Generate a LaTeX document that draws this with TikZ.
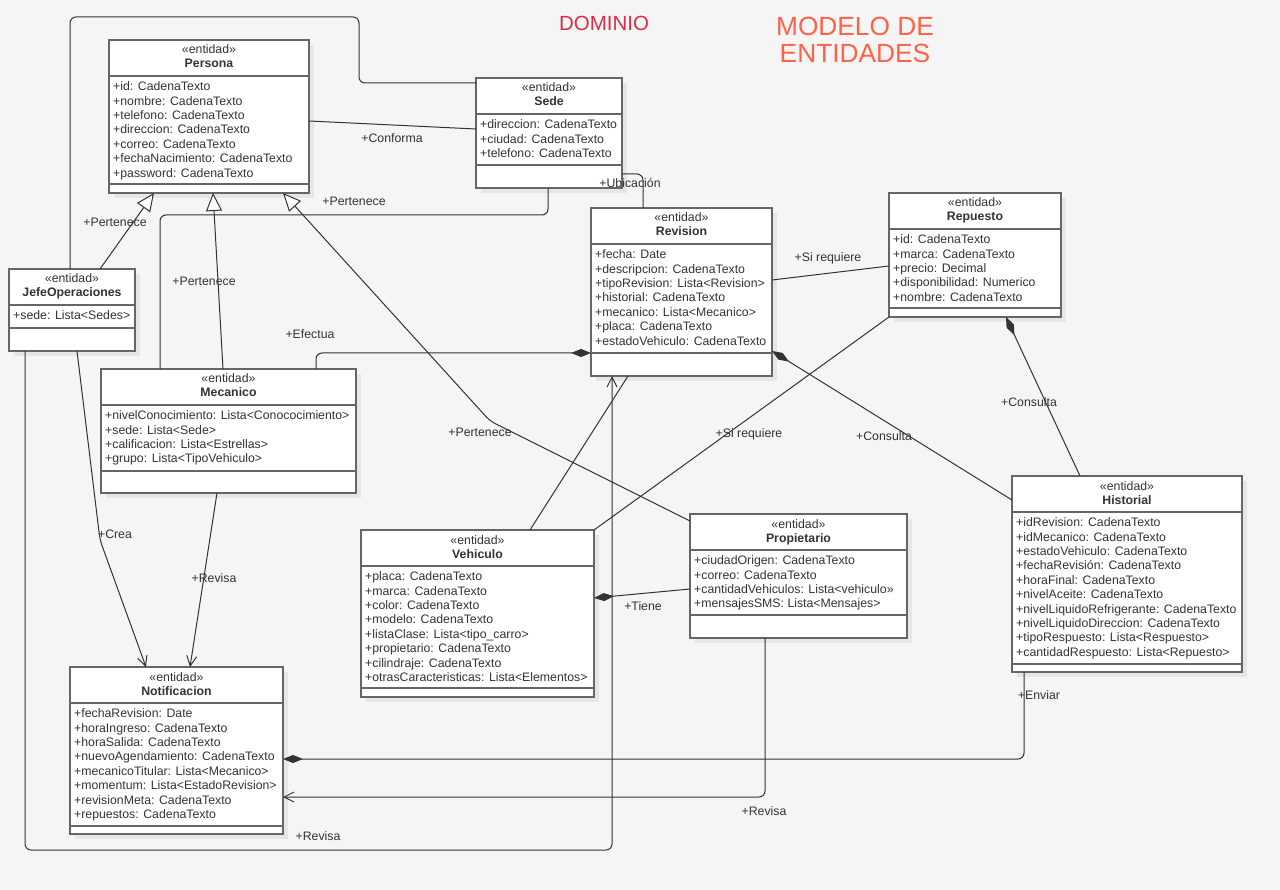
\documentclass[tikz,border=0pt]{standalone}
\usepackage{fontspec}
\setmainfont{Liberation Sans}
\usepackage{xcolor}
\usetikzlibrary{arrows.meta,calc}

\definecolor{fondo}{RGB}{245,245,245}
\definecolor{linea}{RGB}{51,51,51}
\definecolor{bordecaja}{RGB}{102,102,102}
\definecolor{sombragris}{RGB}{230,230,230}
\definecolor{rojodominio}{RGB}{220,44,72}
\definecolor{naranjamodelo}{RGB}{255,99,71}

\tikzset{
  caja/.style={draw=bordecaja, fill=white, line width=1.2pt, inner sep=0pt, outer sep=0pt},
  borde/.style={draw=bordecaja, line width=1.2pt},
  sombra/.style={fill=sombragris},
  estereotipo/.style={anchor=base, inner sep=0pt, font=\fontsize{12.3}{14.4}\selectfont, text=black!80},
  titulo/.style={anchor=base, inner sep=0pt, font=\fontsize{12.3}{14.4}\selectfont\bfseries, text=black!80},
  atributo/.style={anchor=base west, inner sep=0pt, font=\fontsize{12.3}{14.4}\selectfont, text=black!80},
  etiqueta/.style={inner sep=0pt, font=\fontsize{12.3}{14.4}\selectfont, text=black!80},
  enlace/.style={draw=linea, line width=1pt, rounded corners=6pt},
  herencia/.style={enlace, -{Triangle[length=18pt, width=16pt, fill=white]}},
  composicion/.style={enlace, -{Diamond[length=20pt, width=8pt]}},
  dirigida/.style={enlace, -{Straight Barb[length=10pt, width=10pt]}},
}

% nombre, izq, arriba, der, abajo, linea de metodos, titulo, atributos
\newcommand{\claseuml}[8]{%
  \fill[sombra] ({#2+5},{#3+5}) rectangle ({#4+5},{#5+5});
  \node[caja, minimum width={(#4-#2)*1pt}, minimum height={(#5-#3)*1pt}] (#1) at ({(#2+#4)/2},{(#3+#5)/2}) {};
  \draw[borde] (#2,{#3+36}) -- (#4,{#3+36}) (#2,#6) -- (#4,#6);
  \node[estereotipo] at ({(#2+#4)/2},{#3+14}) {«entidad»};
  \node[titulo] at ({(#2+#4)/2},{#3+28}) {#7};
  \foreach \a [count=\i] in {#8}
    \node[atributo] at ({#2+4},{#3+50.7+14.4*(\i-1)}) {\a};
}

\begin{document}
\begin{tikzpicture}[x=1pt, y=-1pt]
        \useasboundingbox (0,0) rectangle (1280,890);
        \fill[fondo] (0,0) rectangle (1280,890);

        \node[text=rojodominio, font=\fontsize{20.5}{24}\selectfont] (dominio) at (604,23) {DOMINIO};
        \node[text=naranjamodelo, align=center, font=\fontsize{26.3}{27}\selectfont] (modelo) at (855,40) {MODELO DE\\ENTIDADES};

        % clases
        \claseuml{persona}{109}{40}{309}{193}{184}{Persona}{+id: CadenaTexto, +nombre: CadenaTexto, +telefono: CadenaTexto, +direccion: CadenaTexto, +correo: CadenaTexto, +fechaNacimiento: CadenaTexto, +password: CadenaTexto}
        \claseuml{sede}{476}{78}{622}{188}{165}{Sede}{+direccion: CadenaTexto, +ciudad: CadenaTexto, +telefono: CadenaTexto}
        \claseuml{revision}{591}{208}{772}{376}{353}{Revision}{+fecha: Date, +descripcion: CadenaTexto, +tipoRevision: Lista<Revision>, +historial: CadenaTexto, +mecanico: Lista<Mecanico>, +placa: CadenaTexto, +estadoVehiculo: CadenaTexto}
        \claseuml{repuesto}{889}{193}{1061}{317}{308}{Repuesto}{+id: CadenaTexto, +marca: CadenaTexto, +precio: Decimal, +disponibilidad: Numerico, +nombre: CadenaTexto}
        \claseuml{jefe}{9}{269}{135}{351}{328}{JefeOperaciones}{+sede: Lista<Sedes>}
        \claseuml{mecanico}{101}{369}{356}{493}{471}{Mecanico}{+nivelConocimiento: Lista<Conococimiento>, +sede: Lista<Sede>, +calificacion: Lista<Estrellas>, +grupo: Lista<TipoVehiculo>}
        \claseuml{vehiculo}{361}{530}{594}{697}{688}{Vehiculo}{+placa: CadenaTexto, +marca: CadenaTexto, +color: CadenaTexto, +modelo: CadenaTexto, +listaClase: Lista<tipo\_carro>, +propietario: CadenaTexto, +cilindraje: CadenaTexto, +otrasCaracteristicas: Lista<Elementos>}
        \claseuml{propietario}{690}{514}{907}{638}{615}{Propietario}{+ciudadOrigen: CadenaTexto, +correo: CadenaTexto, +cantidadVehiculos: Lista<vehiculo>>, +mensajesSMS: Lista<Mensajes>}
        \claseuml{historial}{1012}{476}{1242}{672}{664}{Historial}{+idRevision: CadenaTexto, +idMecanico: CadenaTexto, +estadoVehiculo: CadenaTexto, +fechaRevisión: CadenaTexto, +horaFinal: CadenaTexto, +nivelAceite: CadenaTexto, +nivelLiquidoRefrigerante: CadenaTexto, +nivelLiquidoDireccion: CadenaTexto, +tipoRespuesto: Lista<Respuesto>, +cantidadRespuesto: Lista<Repuesto>}
        \claseuml{notificacion}{70}{667}{283}{834}{826}{Notificacion}{+fechaRevision: Date, +horaIngreso: CadenaTexto, +horaSalida: CadenaTexto, +nuevoAgendamiento: CadenaTexto, +mecanicoTitular: Lista<Mecanico>, +momentum: Lista<EstadoRevision>, +revisionMeta: CadenaTexto, +repuestos: CadenaTexto}

        % relaciones
        \draw[enlace] ($(jefe.north west)+(61,0)$) -- ++(0,-252) -- ++(289,0) -- ++(0,66) -- ($(sede.north west)+(0,5)$);
        \draw[enlace] ($(persona.north east)+(0,81)$) -- ($(sede.north west)+(0,51)$);
        \node[etiqueta] at (392,138) {+Conforma};
        \draw[enlace] ($(sede.south west)+(72,0)$) -- ++(0,27) -- ++(-388,0) -- ($(mecanico.north west)+(59,0)$);
        \node[etiqueta] at (354,201) {+Pertenece};
        \draw[enlace] ($(sede.north east)+(0,96)$) -| ($(revision.north west)+(52,0)$);
        \node[etiqueta] at (630,183) {+Ubicación};

        \draw[herencia] ($(jefe.north west)+(91,0)$) -- ($(persona.south west)+(45,0)$);
        \node[etiqueta] at (115,222) {+Pertenece};
        \draw[herencia] ($(mecanico.north west)+(122,0)$) -- ($(persona.south west)+(104,0)$);
        \node[etiqueta] at (204,281) {+Pertenece};
        \draw[herencia] ($(propietario.north west)+(0,7)$) -- (490,421) -- ($(persona.south west)+(174,0)$);
        \node[etiqueta] at (480,432) {+Pertenece};

        \draw[composicion] ($(mecanico.north west)+(215,0)$) |- ($(revision.south west)+(0,-23)$);
        \node[etiqueta] at (310,334) {+Efectua};
        \draw[enlace] ($(revision.north east)+(0,72)$) -- ($(repuesto.north west)+(0,73)$);
        \node[etiqueta] at (828,258) {+Si requiere};
        \draw[enlace] (vehiculo.north east) -- (repuesto.south west);
        \node[etiqueta] at (749,434) {+Si requiere};
        \draw[enlace] ($(vehiculo.north west)+(169,0)$) -- ($(revision.south west)+(37,0)$);
        \draw[composicion] ($(historial.north west)+(0,24)$) -- ($(revision.south east)+(0,-25)$);
        \node[etiqueta] at (884,436) {+Consulta};
        \draw[composicion] ($(historial.north west)+(68,0)$) -- ($(repuesto.south west)+(117,0)$);
        \node[etiqueta] at (1029,402) {+Consulta};
        \draw[composicion] ($(propietario.north west)+(0,75)$) -- ($(vehiculo.north east)+(0,68)$);
        \node[etiqueta] at (643,606) {+Tiene};

        \draw[dirigida] ($(jefe.south west)+(68,0)$) -- (100,540) -- ($(notificacion.north west)+(76,0)$);
        \node[etiqueta] at (115,534) {+Crea};
        \draw[dirigida] ($(mecanico.south west)+(116,0)$) -- ($(notificacion.north west)+(120,0)$);
        \node[etiqueta] at (214,578) {+Revisa};
        \draw[composicion] ($(historial.south west)+(12,0)$) |- ($(notificacion.north east)+(0,92)$);
        \node[etiqueta] at (1039,695) {+Enviar};
        \draw[dirigida] ($(propietario.south west)+(75,0)$) |- ($(notificacion.north east)+(0,130)$);
        \node[etiqueta] at (764,811) {+Revisa};
        \draw[dirigida] ($(jefe.south west)+(16,0)$) -- ++(0,499) -| ($(revision.south west)+(21,0)$);
        \node[etiqueta] at (318,836) {+Revisa};
\end{tikzpicture}
\end{document}
